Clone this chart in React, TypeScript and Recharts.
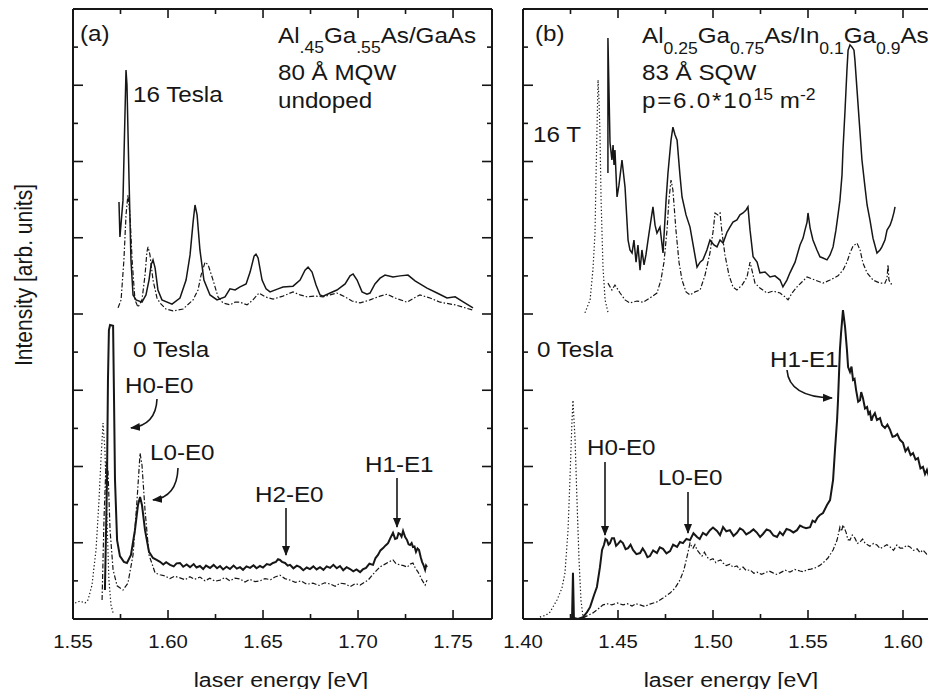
import React from 'react'
import { LineChart, Line, XAxis, YAxis } from 'recharts'

type Pt = [number, number] // [laser energy (eV), intensity (arb. units)]

// ---------- panel (a): Al.45Ga.55As/GaAs 80 Å MQW ----------
const a16Solid: Pt[] = [
  [1.5742, 10.94], [1.5747, 10.02], [1.5763, 10.98], [1.5774, 13.35], [1.5779, 14.40], [1.5784, 14.01],
  [1.5795, 11.51], [1.5805, 9.42], [1.5816, 8.50], [1.5832, 8.37], [1.5863, 8.31], [1.5884, 8.50],
  [1.59, 8.89], [1.5911, 9.29], [1.5921, 9.42], [1.5932, 9.21], [1.5947, 8.63], [1.5968, 8.37],
  [1.6021, 8.26], [1.6063, 8.42], [1.6095, 8.89], [1.6116, 9.55], [1.6132, 10.41], [1.6142, 10.86],
  [1.6153, 10.60], [1.6168, 9.68], [1.6189, 8.89], [1.6221, 8.50], [1.6258, 8.37], [1.63, 8.45],
  [1.6326, 8.66], [1.6353, 8.63], [1.6379, 8.71], [1.6411, 8.79], [1.6432, 9.10], [1.6453, 9.52],
  [1.6463, 9.57], [1.6474, 9.47], [1.6495, 8.89], [1.6516, 8.66], [1.6537, 8.58], [1.6579, 8.66],
  [1.6605, 8.71], [1.6658, 8.73], [1.6695, 8.89], [1.6721, 9.15], [1.6737, 9.23], [1.6758, 9.10],
  [1.6779, 8.76], [1.68, 8.50], [1.6816, 8.47], [1.6853, 8.55], [1.6889, 8.63], [1.6932, 8.79],
  [1.6958, 9.00], [1.6974, 9.05], [1.6995, 8.89], [1.7021, 8.58], [1.7047, 8.52], [1.7063, 8.55],
  [1.7089, 8.79], [1.7116, 8.94], [1.7142, 9.02], [1.7184, 8.97], [1.7221, 9.00], [1.7263, 9.02],
  [1.73, 8.87], [1.7363, 8.68], [1.7416, 8.55], [1.7468, 8.42], [1.7511, 8.45], [1.7547, 8.34],
  [1.7605, 8.16],
]
const a16DashDot: Pt[] = [
  [1.5737, 8.16], [1.5753, 8.37], [1.5768, 9.42], [1.5779, 10.60], [1.5789, 11.12], [1.58, 10.60],
  [1.5811, 9.42], [1.5826, 8.37], [1.5842, 8.18], [1.5863, 8.37], [1.5879, 9.02], [1.5889, 9.63],
  [1.5895, 9.76], [1.5905, 9.55], [1.5921, 8.89], [1.5942, 8.42], [1.5958, 8.29], [1.5989, 8.13],
  [1.6026, 8.08], [1.6079, 8.13], [1.6132, 8.37], [1.6158, 8.63], [1.6174, 9.02], [1.6195, 9.36],
  [1.6211, 9.29], [1.6237, 8.89], [1.6263, 8.45], [1.6289, 8.29], [1.6326, 8.24], [1.6353, 8.31],
  [1.6379, 8.31], [1.6416, 8.24], [1.6447, 8.37], [1.6479, 8.55], [1.6511, 8.45], [1.6553, 8.39],
  [1.6605, 8.47], [1.6658, 8.58], [1.6695, 8.50], [1.6732, 8.45], [1.6774, 8.47], [1.6816, 8.45],
  [1.6853, 8.50], [1.6889, 8.55], [1.6932, 8.45], [1.6968, 8.34], [1.7011, 8.29], [1.7063, 8.37],
  [1.7116, 8.47], [1.7153, 8.52], [1.7195, 8.42], [1.7258, 8.31], [1.7295, 8.42], [1.7326, 8.50],
  [1.7379, 8.42], [1.7432, 8.31], [1.7511, 8.24], [1.7605, 8.10],
]
const a0Solid: Pt[] = [
  [1.5668, 0.76], [1.5679, 3.65], [1.5684, 6.27], [1.5689, 7.58], [1.5695, 7.71], [1.5711, 7.69],
  [1.5716, 5.74], [1.5721, 3.65], [1.5732, 2.07], [1.5747, 1.65], [1.5768, 1.50], [1.5784, 1.47],
  [1.5805, 1.68], [1.5826, 2.33], [1.5842, 2.99], [1.5853, 3.20], [1.5863, 2.99], [1.5879, 2.33],
  [1.59, 1.76], [1.5921, 1.60], [1.594, 1.55], [1.5958, 1.50], [1.5975, 1.43], [1.599, 1.49],
  [1.6011, 1.42], [1.603, 1.38], [1.6045, 1.46], [1.6063, 1.47], [1.608, 1.37], [1.6098, 1.43],
  [1.6116, 1.36], [1.6135, 1.44], [1.615, 1.35], [1.6168, 1.39], [1.6185, 1.31], [1.62, 1.40],
  [1.6221, 1.34], [1.624, 1.42], [1.6258, 1.33], [1.6274, 1.39], [1.629, 1.30], [1.6308, 1.37],
  [1.6326, 1.31], [1.6345, 1.40], [1.6362, 1.32], [1.6379, 1.36], [1.6395, 1.29], [1.6413, 1.38],
  [1.6432, 1.34], [1.645, 1.41], [1.6466, 1.33], [1.6484, 1.39], [1.65, 1.35], [1.652, 1.44],
  [1.6537, 1.42], [1.6552, 1.47], [1.6568, 1.50], [1.6579, 1.57], [1.6589, 1.55], [1.66, 1.50],
  [1.6616, 1.47], [1.663, 1.40], [1.6642, 1.42], [1.666, 1.33], [1.6678, 1.40], [1.6695, 1.36],
  [1.6712, 1.28], [1.673, 1.35], [1.6747, 1.31], [1.6765, 1.38], [1.6782, 1.30], [1.68, 1.36],
  [1.6818, 1.29], [1.6835, 1.38], [1.6853, 1.34], [1.687, 1.42], [1.6888, 1.33], [1.6905, 1.39],
  [1.6922, 1.28], [1.694, 1.36], [1.6958, 1.31], [1.6975, 1.25], [1.6992, 1.30], [1.7011, 1.23],
  [1.7025, 1.30], [1.7042, 1.34], [1.706, 1.45], [1.7079, 1.42], [1.7092, 1.60], [1.7105, 1.68],
  [1.7118, 1.80], [1.7132, 1.86], [1.7145, 1.93], [1.7158, 1.99], [1.717, 2.12], [1.7184, 2.26],
  [1.7195, 2.10], [1.7205, 2.12], [1.7213, 2.25], [1.7221, 2.23], [1.7229, 2.16], [1.7237, 2.31],
  [1.7248, 2.15], [1.7258, 2.07], [1.7266, 1.96], [1.7274, 1.94], [1.7282, 1.99], [1.7289, 1.89],
  [1.7297, 1.90], [1.7305, 1.76], [1.7313, 1.85], [1.7321, 1.81], [1.733, 1.62], [1.7337, 1.50],
  [1.7345, 1.41], [1.7353, 1.29], [1.7358, 1.40], [1.7363, 1.36],
]
const a0Dashed: Pt[] = [
  [1.5653, 0.50], [1.5663, 2.60], [1.5674, 4.12], [1.5684, 3.91], [1.5695, 2.33], [1.5711, 1.29],
  [1.5732, 0.87], [1.5763, 0.76], [1.5789, 0.94], [1.5816, 1.68], [1.5837, 3.12], [1.5853, 4.35],
  [1.5863, 4.04], [1.5879, 2.86], [1.59, 1.68], [1.5932, 1.21], [1.5958, 1.16], [1.5984, 1.13],
  [1.601, 1.06], [1.6035, 1.12], [1.6063, 1.08], [1.609, 1.03], [1.6115, 1.11], [1.614, 1.04],
  [1.6168, 1.10], [1.6195, 1.00], [1.622, 1.07], [1.6248, 0.99], [1.6274, 1.02], [1.63, 1.09],
  [1.6325, 1.00], [1.6352, 1.07], [1.6379, 1.05], [1.6405, 0.97], [1.643, 1.04], [1.6458, 0.98],
  [1.6484, 1.00], [1.651, 1.06], [1.654, 1.03], [1.6563, 1.10], [1.6589, 1.15], [1.6615, 1.06],
  [1.6642, 1.02], [1.667, 0.96], [1.67, 1.00], [1.673, 0.91], [1.6763, 0.94], [1.6795, 0.88],
  [1.6825, 0.95], [1.6853, 0.92], [1.688, 0.86], [1.6905, 0.94], [1.6932, 0.92], [1.696, 0.85],
  [1.6985, 0.93], [1.7011, 0.89], [1.703, 0.95], [1.7053, 1.02], [1.7075, 1.15], [1.71, 1.29],
  [1.712, 1.38], [1.7142, 1.44], [1.7163, 1.50], [1.7184, 1.55], [1.72, 1.45], [1.7221, 1.42],
  [1.724, 1.40], [1.7258, 1.36], [1.7275, 1.44], [1.7289, 1.47], [1.73, 1.35], [1.7316, 1.23],
  [1.7327, 1.12], [1.7337, 1.02], [1.7353, 0.89], [1.7363, 1.02],
]
const a0Dotted: Pt[] = [
  [1.5511, 0.42], [1.5537, 0.47], [1.5563, 0.42], [1.5579, 0.50], [1.56, 0.89], [1.5621, 1.81],
  [1.5637, 3.12], [1.5647, 4.17], [1.5658, 5.14], [1.5668, 4.43], [1.5679, 2.60], [1.5689, 1.02],
  [1.57, 0.37], [1.5711, 0.16],
]

// ---------- panel (b): Al0.25Ga0.75As/In0.1Ga0.9As 83 Å SQW ----------
const b16Solid: Pt[] = [
  [1.4447, 11.70], [1.4447, 15.24], [1.4458, 12.49], [1.4468, 12.04], [1.4474, 12.43], [1.4479, 11.91],
  [1.4484, 12.30], [1.4495, 11.07], [1.4505, 11.38], [1.4521, 12.04], [1.4537, 11.33], [1.4553, 9.94],
  [1.4563, 9.68], [1.4574, 9.60], [1.4584, 9.94], [1.4595, 9.36], [1.4605, 9.81], [1.4616, 9.15],
  [1.4626, 9.68], [1.4637, 9.29], [1.4647, 9.55], [1.4658, 9.94], [1.4668, 10.28], [1.4684, 10.81],
  [1.4695, 10.33], [1.4705, 10.12], [1.4721, 10.28], [1.4737, 9.60], [1.4753, 10.98], [1.4763, 11.70],
  [1.4779, 12.56], [1.4789, 12.90], [1.48, 12.70], [1.4811, 12.56], [1.4826, 11.65], [1.4837, 11.07],
  [1.4858, 10.60], [1.4879, 10.28], [1.49, 9.68], [1.4916, 9.23], [1.4932, 9.36], [1.4947, 9.42],
  [1.4968, 9.68], [1.4984, 9.94], [1.5005, 9.81], [1.5021, 9.76], [1.5037, 9.94], [1.5053, 9.86],
  [1.5074, 10.15], [1.5089, 10.28], [1.5105, 10.41], [1.5126, 10.47], [1.5142, 10.60], [1.5158, 10.65],
  [1.5174, 10.73], [1.5184, 10.81], [1.5195, 10.20], [1.5211, 9.50], [1.5232, 9.36], [1.5247, 9.08],
  [1.5274, 9.10], [1.53, 8.97], [1.5326, 9.00], [1.5353, 8.89], [1.5368, 8.71], [1.5389, 8.89],
  [1.5405, 9.08], [1.5432, 9.36], [1.5458, 9.81], [1.5474, 9.99], [1.5484, 10.20], [1.5495, 10.41],
  [1.55, 10.65], [1.5511, 10.26], [1.5526, 9.94], [1.5547, 9.68], [1.5563, 9.50], [1.5579, 9.47],
  [1.56, 9.42], [1.5616, 9.55], [1.5632, 9.76], [1.5647, 10.20], [1.5658, 10.60], [1.5668, 10.98],
  [1.5679, 11.65], [1.5684, 12.30], [1.5695, 13.35], [1.5705, 14.40], [1.5711, 14.92], [1.5721, 15.06],
  [1.5732, 15.00], [1.5742, 14.92], [1.5747, 14.66], [1.5758, 13.88], [1.5774, 12.75], [1.5784, 12.04],
  [1.58, 11.33], [1.5811, 10.86], [1.5826, 10.47], [1.5842, 9.99], [1.5863, 9.60], [1.5879, 9.68],
  [1.5889, 9.76], [1.5905, 9.94], [1.5916, 10.20], [1.5932, 10.33], [1.5942, 10.47], [1.5953, 10.68],
  [1.5958, 10.81],
]
const b16DashDot: Pt[] = [
  [1.4447, 8.81], [1.4468, 8.63], [1.4484, 8.76], [1.4511, 8.55], [1.4537, 8.37], [1.4563, 8.29],
  [1.46, 8.34], [1.4632, 8.31], [1.4668, 8.42], [1.4705, 8.55], [1.4726, 8.89], [1.4742, 9.36],
  [1.4758, 10.20], [1.4768, 10.99], [1.4779, 11.51], [1.4789, 11.25], [1.4805, 10.20], [1.4821, 9.36],
  [1.4837, 8.89], [1.4858, 8.58], [1.4879, 8.50], [1.4905, 8.58], [1.4932, 8.63], [1.4958, 9.02],
  [1.4984, 9.60], [1.50, 10.15], [1.5011, 10.65], [1.5026, 10.60], [1.5037, 10.65], [1.5047, 10.15],
  [1.5063, 9.55], [1.5084, 9.02], [1.5105, 8.71], [1.5126, 8.63], [1.5153, 8.76], [1.5179, 8.97],
  [1.5195, 9.36], [1.5205, 9.15], [1.5221, 8.81], [1.5247, 8.68], [1.5284, 8.55], [1.5316, 8.60],
  [1.5353, 8.55], [1.5379, 8.45], [1.5395, 8.37], [1.5416, 8.55], [1.5442, 8.71], [1.5468, 8.84],
  [1.5495, 8.97], [1.5537, 8.89], [1.5579, 8.81], [1.5616, 8.89], [1.5658, 9.00], [1.5684, 9.15],
  [1.5705, 9.36], [1.5721, 9.60], [1.5737, 9.78], [1.5758, 9.86], [1.5774, 9.68], [1.5789, 9.34],
  [1.5811, 9.08], [1.5842, 8.89], [1.5879, 8.81], [1.5905, 8.81], [1.5916, 8.94], [1.5921, 9.29],
  [1.5926, 8.89], [1.5937, 8.79], [1.5947, 8.79],
]
const b16Dotted: Pt[] = [
  [1.4326, 8.03], [1.4353, 8.37], [1.4368, 9.15], [1.4379, 10.12], [1.4384, 11.51], [1.4389, 12.75],
  [1.4395, 14.14], [1.44, 13.61], [1.4405, 12.75], [1.4411, 10.99], [1.4421, 9.23], [1.4432, 8.37],
  [1.4447, 8.05],
]
const b0Solid: Pt[] = [
  [1.4247, 0.0], [1.4258, 0.0], [1.4263, 1.21], [1.4268, 0.03], [1.4289, 0.0], [1.4316, 0.05],
  [1.4337, 0.18], [1.4353, 0.31], [1.4374, 0.63], [1.4389, 0.84], [1.4405, 1.36], [1.4416, 1.81],
  [1.4426, 1.94], [1.4434, 2.10], [1.4442, 2.07], [1.445, 1.95], [1.4458, 1.99], [1.4468, 2.12],
  [1.4479, 2.12], [1.449, 1.92], [1.45, 1.97], [1.4513, 2.05], [1.4526, 1.99], [1.454, 1.83],
  [1.4553, 1.86], [1.4566, 1.95], [1.4579, 1.81], [1.4597, 1.70], [1.4616, 1.73], [1.463, 1.85],
  [1.4642, 1.76], [1.4655, 1.62], [1.4668, 1.65], [1.4685, 1.80], [1.4705, 1.73], [1.472, 1.88],
  [1.4737, 1.84], [1.4755, 1.72], [1.4774, 1.78], [1.479, 1.95], [1.4811, 1.89], [1.4826, 2.02],
  [1.4842, 1.99], [1.486, 2.10], [1.4879, 2.07], [1.4897, 2.25], [1.4916, 2.15], [1.493, 2.10],
  [1.4947, 2.26], [1.4965, 2.20], [1.4984, 2.33], [1.50, 2.40], [1.5021, 2.31], [1.5037, 2.20],
  [1.5053, 2.41], [1.507, 2.30], [1.5089, 2.33], [1.5108, 2.18], [1.5126, 2.26], [1.5142, 2.38],
  [1.5158, 2.33], [1.5175, 2.22], [1.5195, 2.28], [1.5213, 2.35], [1.5232, 2.26], [1.5248, 2.15],
  [1.5263, 2.23], [1.5282, 2.35], [1.53, 2.31], [1.5318, 2.19], [1.5337, 2.15], [1.5352, 2.28],
  [1.5368, 2.20], [1.5387, 2.36], [1.5405, 2.33], [1.5423, 2.27], [1.5442, 2.33], [1.5458, 2.45],
  [1.5474, 2.41], [1.549, 2.38], [1.5511, 2.41], [1.5524, 2.58], [1.5537, 2.54], [1.555, 2.66],
  [1.5563, 2.73], [1.5579, 2.78], [1.56, 2.99], [1.5616, 3.12], [1.5632, 3.65], [1.5642, 4.43],
  [1.5653, 5.22], [1.5658, 5.74], [1.5668, 7.06], [1.5674, 7.50], [1.5684, 8.10], [1.5695, 7.66],
  [1.5705, 7.06], [1.5711, 6.61], [1.5721, 6.48], [1.5729, 6.62], [1.5737, 6.27], [1.5745, 6.30],
  [1.5753, 6.01], [1.5764, 5.70], [1.5774, 5.74], [1.578, 5.95], [1.5789, 5.80], [1.58, 5.52],
  [1.5811, 5.56], [1.5818, 5.38], [1.5826, 5.43], [1.5834, 5.20], [1.5842, 5.32], [1.5852, 5.40],
  [1.5863, 5.22], [1.5879, 5.27], [1.589, 5.08], [1.5905, 5.01], [1.5918, 5.10], [1.5932, 4.96],
  [1.5945, 4.78], [1.5958, 4.80], [1.597, 4.85], [1.5984, 4.70], [1.60, 4.62], [1.6013, 4.40],
  [1.6026, 4.49], [1.604, 4.30], [1.6053, 4.35], [1.6066, 4.18], [1.6079, 4.22], [1.6092, 3.95],
  [1.6105, 3.99], [1.6116, 3.80], [1.6126, 3.91], [1.6142, 3.65], [1.6158, 3.54], [1.6174, 3.38],
  [1.62, 3.25],
]
const b0Dashed: Pt[] = [
  [1.4316, 0.03], [1.4368, 0.16], [1.4389, 0.24], [1.4405, 0.30], [1.4421, 0.37], [1.4445, 0.40],
  [1.4468, 0.37], [1.4495, 0.42], [1.4526, 0.37], [1.455, 0.40], [1.4574, 0.34], [1.4595, 0.40],
  [1.4616, 0.37], [1.464, 0.33], [1.4668, 0.39], [1.4705, 0.45], [1.4737, 0.55], [1.4774, 0.68],
  [1.48, 0.81], [1.4826, 1.02], [1.4847, 1.29], [1.4863, 1.63], [1.4879, 1.99], [1.4888, 1.90],
  [1.4895, 1.86], [1.4905, 1.95], [1.4916, 1.81], [1.493, 1.72], [1.4942, 1.65], [1.4955, 1.75],
  [1.4968, 1.63], [1.4985, 1.55], [1.50, 1.58], [1.5015, 1.48], [1.5026, 1.52], [1.504, 1.55],
  [1.5053, 1.47], [1.507, 1.40], [1.5089, 1.44], [1.5105, 1.36], [1.5126, 1.39], [1.514, 1.30],
  [1.5158, 1.36], [1.5175, 1.27], [1.5195, 1.29], [1.5215, 1.20], [1.5232, 1.23], [1.5255, 1.17],
  [1.5274, 1.21], [1.5295, 1.26], [1.5316, 1.21], [1.5335, 1.17], [1.5353, 1.21], [1.538, 1.28],
  [1.5405, 1.23], [1.543, 1.30], [1.5458, 1.26], [1.5475, 1.24], [1.5495, 1.29], [1.5515, 1.31],
  [1.5537, 1.34], [1.556, 1.40], [1.5579, 1.47], [1.5605, 1.60], [1.5632, 1.81], [1.5653, 2.07],
  [1.5668, 2.41], [1.5677, 2.30], [1.5684, 2.47], [1.57, 2.28], [1.571, 2.08], [1.5721, 2.07],
  [1.5733, 2.20], [1.5747, 2.12], [1.576, 1.98], [1.5774, 2.02], [1.5787, 2.10], [1.58, 1.99],
  [1.5826, 1.91], [1.5845, 1.98], [1.5863, 1.94], [1.588, 1.85], [1.5895, 1.89], [1.5915, 1.95],
  [1.5932, 1.89], [1.595, 1.80], [1.5968, 1.94], [1.5985, 1.86], [1.60, 1.86], [1.602, 1.93],
  [1.6037, 1.89], [1.6055, 1.80], [1.6074, 1.84], [1.609, 1.74], [1.6105, 1.81], [1.6125, 1.70],
  [1.6142, 1.76], [1.6174, 1.73], [1.62, 1.70],
]
const b0Dotted: Pt[] = [
  [1.4089, 0.05], [1.412, 0.10], [1.4142, 0.18], [1.4179, 0.50], [1.4205, 0.81], [1.4221, 1.21],
  [1.4237, 2.33], [1.4247, 3.65], [1.4258, 5.22], [1.4263, 5.74], [1.4274, 4.70], [1.4284, 3.12],
  [1.4295, 1.55], [1.4305, 0.50], [1.4316, 0.05],
]

// axes
const A_DOMAIN: [number, number] = [1.55, 1.7705]
const B_DOMAIN: [number, number] = [1.4, 1.62]
const A_TICKS = [1.55, 1.575, 1.6, 1.625, 1.65, 1.675, 1.7, 1.725, 1.75]
const B_TICKS = [1.4, 1.425, 1.45, 1.475, 1.5, 1.525, 1.55, 1.575, 1.6]
const Y_DOMAIN: [number, number] = [0, 16]
const Y_TICKS = [1, 2, 3, 4, 5, 6, 7, 8, 9, 10, 11, 12, 13, 14, 15]

const INK = '#161616'
const FONT = '"Liberation Sans", Arial, Helvetica, sans-serif'

type Kind = 'solid' | 'thick' | 'dashdot' | 'dotted'
const STYLE: Record<Kind, { w: number; dash?: string }> = {
  solid: { w: 1.5 },
  thick: { w: 2 },
  dashdot: { w: 1.2, dash: '5 2 1.5 2' },
  dotted: { w: 1.2, dash: '1.3 2.2' },
}

const rows = (pts: Pt[]) => pts.map(([x, y]) => ({ x, y }))
const majorX = (v: number) => Math.abs(v * 20 - Math.round(v * 20)) < 1e-6

const xTick = (side: 'bottom' | 'top') => (p: any) => {
  const v = p.payload.value
  const major = majorX(v)
  const dir = side === 'bottom' ? -1 : 1
  return (
    <g>
      <line x1={p.x} x2={p.x} y1={p.y} y2={p.y + dir * (major ? 9 : 5)} stroke={INK} strokeWidth={1.6} />
      {side === 'bottom' && major && (
        <text
          transform={`translate(${p.x} ${p.y + 29}) scale(1.1 1)`}
          textAnchor="middle"
          fontSize={18.5}
          fontFamily={FONT}
          fill={INK}
        >
          {v.toFixed(2)}
        </text>
      )}
    </g>
  )
}

const yTick = (side: 'left' | 'right') => (p: any) => {
  const v = p.payload.value
  const len = v % 2 === 0 ? 10 : 5
  const dir = side === 'left' ? 1 : -1
  return <line x1={p.x} x2={p.x + dir * len} y1={p.y} y2={p.y} stroke={INK} strokeWidth={1.6} />
}

interface PanelProps {
  left: number
  width: number
  margin: { top: number; right: number; bottom: number; left: number }
  domain: [number, number]
  ticks: number[]
  series: { data: Pt[]; kind: Kind }[]
}

// each axis takes 1px of room (recharts skips axes of zero size), margins allow for it
function Panel({ left, width, margin, domain, ticks, series }: PanelProps) {
  const axisLine = { stroke: INK, strokeWidth: 2 }
  const common = { tickSize: 0, tickMargin: 0, tickLine: false, axisLine, interval: 0 as const, allowDataOverflow: true }
  return (
    <div style={{ position: 'absolute', left, top: 0 }}>
      <LineChart width={width} height={697} margin={margin}>
        <XAxis xAxisId="b" dataKey="x" type="number" domain={domain} ticks={ticks} height={1} tick={xTick('bottom')} {...common} />
        <XAxis xAxisId="t" orientation="top" dataKey="x" type="number" domain={domain} ticks={ticks} height={1} tick={xTick('top')} {...common} />
        <YAxis yAxisId="l" type="number" domain={Y_DOMAIN} ticks={Y_TICKS} width={1} tick={yTick('left')} {...common} />
        <YAxis yAxisId="r" orientation="right" type="number" domain={Y_DOMAIN} ticks={Y_TICKS} width={1} tick={yTick('right')} {...common} />
        {series.map((s, i) => (
          <Line
            key={i}
            xAxisId="b"
            yAxisId="l"
            data={rows(s.data)}
            dataKey="y"
            type="linear"
            stroke={INK}
            strokeWidth={STYLE[s.kind].w}
            strokeDasharray={STYLE[s.kind].dash}
            dot={false}
            activeDot={false}
            isAnimationActive={false}
          />
        ))}
      </LineChart>
    </div>
  )
}

function T({ x, y, size = 22, children, anchor = 'start', ls }: any) {
  return (
    <text transform={`translate(${x} ${y}) scale(1.1 1)`} fontSize={size} textAnchor={anchor} letterSpacing={ls} fill={INK}>
      {children}
    </text>
  )
}

function Overlay() {
  const arrow = { stroke: INK, strokeWidth: 1.6, fill: 'none', markerEnd: 'url(#ah)' }
  return (
    <svg width={936} height={697} style={{ position: 'absolute', left: 0, top: 0, pointerEvents: 'none' }} fontFamily={FONT}>
      <defs>
        <marker id="ah" viewBox="0 0 10 10" refX="9" refY="5" markerWidth="10" markerHeight="10" markerUnits="userSpaceOnUse" orient="auto">
          <path d="M0,1 L10,5 L0,9 z" fill={INK} />
        </marker>
      </defs>
      {/* axis titles */}
      <text transform="translate(32 275) scale(1.1 1) rotate(-90)" fontSize={21} textAnchor="middle" fill={INK}>
        Intensity [arb. units]
      </text>
      <T x={281} y={687} size={21} anchor="middle">laser energy [eV]</T>
      <T x={731} y={687} size={21} anchor="middle">laser energy [eV]</T>

      {/* panel (a) */}
      <T x={80} y={41}>(a)</T>
      <T x={278} y={43}>
        Al<tspan fontSize={16} dy={10}>.45</tspan>
        <tspan dy={-10}>Ga</tspan><tspan fontSize={16} dy={10}>.55</tspan>
        <tspan dy={-10}>As/GaAs</tspan>
      </T>
      <T x={278} y={80}>80 Å MQW</T>
      <T x={278} y={108}>undoped</T>
      <T x={133} y={102}>16 Tesla</T>
      <T x={133} y={357}>0 Tesla</T>
      <T x={125} y={393}>H0-E0</T>
      <T x={150} y={460}>L0-E0</T>
      <T x={255} y={502}>H2-E0</T>
      <T x={365} y={472}>H1-E1</T>
      <path d="M157,399 Q156,425 131,428" {...arrow} />
      <path d="M178,468 Q177,497 153,500" {...arrow} />
      <path d="M286,508 L286,555" {...arrow} />
      <path d="M397,478 L397,527" {...arrow} />

      {/* panel (b) */}
      <T x={535} y={41}>(b)</T>
      <T x={642} y={43}>
        Al<tspan fontSize={16} dy={11}>0.25</tspan>
        <tspan dy={-11}>Ga</tspan><tspan fontSize={16} dy={11}>0.75</tspan>
        <tspan dy={-11}>As/In</tspan><tspan fontSize={16} dy={11}>0.1</tspan>
        <tspan dy={-11}>Ga</tspan><tspan fontSize={16} dy={11}>0.9</tspan>
        <tspan dy={-11}>As</tspan>
      </T>
      <T x={642} y={80}>83 Å SQW</T>
      <T x={642} y={108}>
        <tspan letterSpacing={1.6}>p=6.0*10</tspan>
        <tspan fontSize={16} dy={-8}>15</tspan>
        <tspan dy={8}> m</tspan>
        <tspan fontSize={16} dy={-8}>-2</tspan>
      </T>
      <T x={533} y={142}>16 T</T>
      <T x={537} y={357}>0 Tesla</T>
      <T x={770} y={367}>H1-E1</T>
      <T x={587} y={455}>H0-E0</T>
      <T x={658} y={485}>L0-E0</T>
      <path d="M787,370 Q789,397 832,398" {...arrow} />
      <path d="M605,462 L605,535" {...arrow} />
      <path d="M688,492 L688,533" {...arrow} />
    </svg>
  )
}

export default function App() {
  return (
    <div style={{ position: 'relative', width: 936, height: 697, margin: -8, overflow: 'hidden', background: '#fff', fontFamily: FONT }}>
      <Panel
        left={0}
        width={500}
        margin={{ top: 8, right: 7, bottom: 77, left: 72 }}
        domain={A_DOMAIN}
        ticks={A_TICKS}
        series={[
          { data: a16Solid, kind: 'solid' },
          { data: a16DashDot, kind: 'dashdot' },
          { data: a0Dotted, kind: 'dotted' },
          { data: a0Dashed, kind: 'dashdot' },
          { data: a0Solid, kind: 'thick' },
        ]}
      />
      <Panel
        left={500}
        width={460}
        margin={{ top: 8, right: 18, bottom: 77, left: 22 }}
        domain={B_DOMAIN}
        ticks={B_TICKS}
        series={[
          { data: b16Solid, kind: 'solid' },
          { data: b16DashDot, kind: 'dashdot' },
          { data: b16Dotted, kind: 'dotted' },
          { data: b0Dotted, kind: 'dotted' },
          { data: b0Dashed, kind: 'dashdot' },
          { data: b0Solid, kind: 'thick' },
        ]}
      />
      <Overlay />
    </div>
  )
}
